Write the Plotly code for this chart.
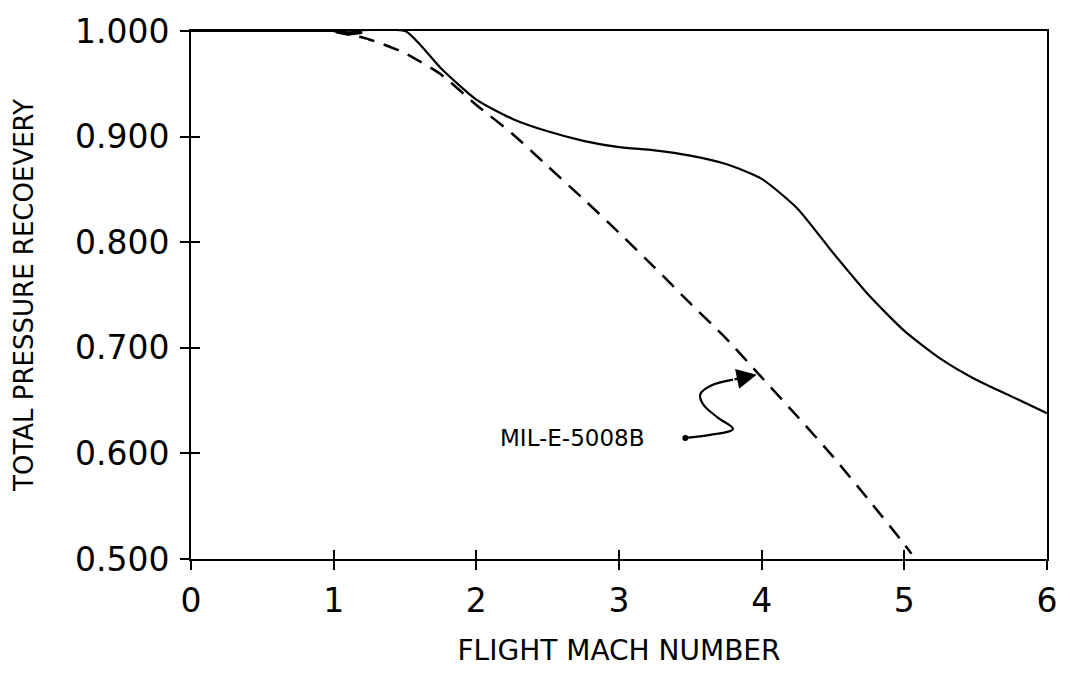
import plotly.graph_objects as go

# Data
mach_solid = [0.0, 1.0, 1.5, 1.6, 1.75, 2.0, 2.25, 2.5, 2.75, 3.0, 3.25, 3.5, 3.75, 4.0, 4.25, 4.5, 4.75, 5.0, 5.25, 5.5, 5.75, 6.0]
pr_solid = [1.0, 1.0, 1.0, 0.988, 0.965, 0.935, 0.917, 0.905, 0.896, 0.890, 0.887, 0.882, 0.874, 0.860, 0.832, 0.790, 0.750, 0.716, 0.690, 0.670, 0.654, 0.638]

mach_mil = [1.0, 1.25, 1.5, 1.75, 2.0, 2.25, 2.5, 2.75, 3.0, 3.25, 3.5, 3.75, 4.0, 4.25, 4.5, 4.75, 5.0, 5.05]
pr_mil = [1.0, 0.992, 0.979, 0.959, 0.930, 0.903, 0.872, 0.841, 0.809, 0.776, 0.742, 0.709, 0.672, 0.635, 0.597, 0.556, 0.514, 0.505]

blob_x = [1.02, 1.1, 1.2]
blob_y = [0.9995, 0.9975, 0.999]

# Squiggle leader for the MIL-E-5008B label
lead_x = [3.465, 3.639, 3.799, 3.688, 3.590, 3.569, 3.646, 3.799]
lead_y = [0.6147, 0.6175, 0.6231, 0.6343, 0.6465, 0.6558, 0.6642, 0.6698]
arrow_tip = (3.965, 0.6744)
label_pos = (2.15, 0.6147)

x_ticks = [0, 1, 2, 3, 4, 5, 6]
y_ticks = [0.5, 0.6, 0.7, 0.8, 0.9, 1.0]
y_tick_text = ["0.500", "0.600", "0.700", "0.800", "0.900", "1.000"]

FONT = "DejaVu Sans"
BLACK = "#000000"

fig = go.Figure()
fig.add_trace(go.Scatter(x=mach_solid, y=pr_solid, mode="lines", line=dict(color=BLACK, width=2.2, shape="spline", smoothing=0.6), showlegend=False))
fig.add_trace(go.Scatter(x=mach_mil, y=pr_mil, mode="lines", line=dict(color=BLACK, width=2.5, dash="16px,10px", shape="spline", smoothing=0.6), showlegend=False))
fig.add_trace(go.Scatter(x=blob_x, y=blob_y, mode="lines", line=dict(color=BLACK, width=4), showlegend=False))
fig.add_trace(go.Scatter(x=lead_x, y=lead_y, mode="lines", line=dict(color=BLACK, width=2.2, shape="spline", smoothing=1.0), showlegend=False))
fig.add_trace(go.Scatter(x=[lead_x[0]], y=[lead_y[0]], mode="markers", marker=dict(color=BLACK, size=6), showlegend=False))
# dummy trace for the inner-tick overlay axes
fig.add_trace(go.Scatter(x=[0], y=[0.5], xaxis="x2", yaxis="y2", mode="markers", marker=dict(opacity=0), showlegend=False, hoverinfo="skip"))

fig.add_annotation(x=arrow_tip[0], y=arrow_tip[1], ax=lead_x[-1], ay=lead_y[-1], xref="x", yref="y", axref="x", ayref="y",
                   showarrow=True, arrowhead=2, arrowsize=1.6, arrowwidth=2.5, arrowcolor=BLACK, text="")
fig.add_annotation(x=label_pos[0], y=label_pos[1], xref="x", yref="y", text="MIL-E-5008B", showarrow=False,
                   xanchor="left", yanchor="middle", font=dict(family=FONT, size=23, color=BLACK))

axis_common = dict(showgrid=False, zeroline=False, linecolor=BLACK, linewidth=2, tickcolor=BLACK, tickwidth=2, ticklen=9)
inner = {k: v for k, v in axis_common.items() if k not in ("linecolor", "linewidth")}

fig.update_layout(
    width=1070, height=675,
    margin=dict(l=191, r=15, t=23, b=116),
    paper_bgcolor="white", plot_bgcolor="white",
    xaxis=dict(range=[0, 6], tickvals=x_ticks, ticks="outside", showline=True, mirror=True,
               tickfont=dict(family=FONT, size=33, color=BLACK), ticklabelstandoff=2,
               title=dict(text="FLIGHT MACH NUMBER", font=dict(family=FONT, size=28, color=BLACK), standoff=22),
               **axis_common),
    yaxis=dict(range=[0.5, 1.0], tickvals=y_ticks, ticktext=y_tick_text, ticks="outside", showline=True, mirror=True,
               tickfont=dict(family=FONT, size=33, color=BLACK), ticklabelstandoff=4,
               title=dict(text="TOTAL PRESSURE RECOEVERY", font=dict(family=FONT, size=26, color=BLACK), standoff=34),
               **axis_common),
    xaxis2=dict(range=[0, 6], tickvals=x_ticks, ticks="inside", overlaying="x", anchor="y2", showticklabels=False,
                showline=False, **inner),
    yaxis2=dict(range=[0.5, 1.0], tickvals=y_ticks, ticks="inside", overlaying="y", anchor="x2", side="left", showticklabels=False,
                showline=False, **inner),
)

fig.write_html("out.html")
